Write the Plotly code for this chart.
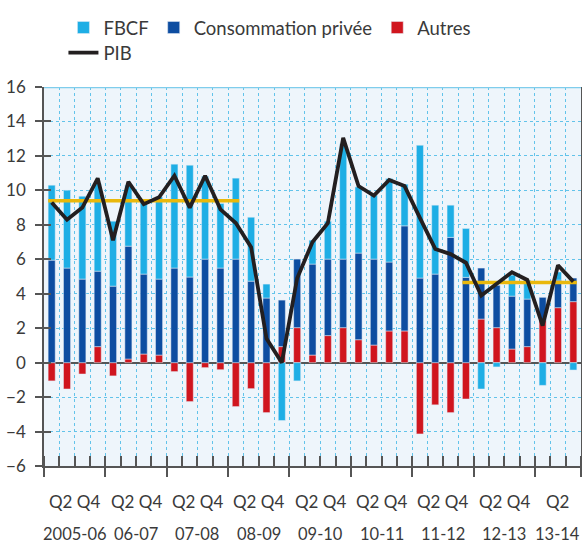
import plotly.graph_objects as go

# ---- data (quarters 2005-06 Q1 .. 2013-14 Q3) ----
years = ["2005-06", "06-07", "07-08", "08-09", "09-10", "10-11", "11-12", "12-13", "13-14"]
quarters_per_year = [4, 4, 4, 4, 4, 4, 4, 4, 3]
quarter_labels = ["Q2 Q4", "Q2 Q4", "Q2 Q4", "Q2 Q4", "Q2 Q4", "Q2 Q4", "Q2 Q4", "Q2 Q4", "Q2"]

fbcf = [4.35, 4.52, 4.81, 5.09, 3.77, 3.54, 4.16, 4.77,
        6.03, 6.49, 4.81, 3.75, 4.70, 3.71, 0.81, -3.36,
        -1.06, 1.39, 2.20, 6.69, 3.84, 3.71, 4.85, 2.42,
        7.71, 4.00, 1.87, 2.84, -1.53, -0.25, 1.22, 1.10,
        -1.32, 0.47, -0.43]
consommation = [5.95, 5.49, 4.85, 4.38, 4.44, 6.55, 4.64, 4.41,
                5.49, 4.97, 6.01, 5.49, 6.01, 4.73, 3.75, 2.70,
                3.98, 5.28, 4.44, 3.98, 5.03, 4.99, 4.00, 6.10,
                4.91, 5.14, 7.27, 4.95, 2.96, 2.46, 3.07, 2.76,
                1.34, 1.60, 1.37]
autres = [-1.06, -1.53, -0.66, 0.93, -0.77, 0.21, 0.50, 0.44,
          -0.52, -2.26, -0.29, -0.41, -2.55, -1.51, -2.90, 0.93,
          2.03, 0.44, 1.57, 2.03, 1.33, 1.02, 1.84, 1.84,
          -4.14, -2.45, -2.90, -2.11, 2.53, 2.03, 0.79, 0.93,
          2.45, 3.19, 3.54]
pib = [9.3, 8.3, 9.0, 10.7, 7.1, 10.5, 9.2, 9.6,
       10.85, 9.0, 10.85, 8.9, 8.1, 6.7, 1.4, 0.0,
       4.9, 7.0, 8.1, 13.05, 10.25, 9.7, 10.6, 10.25,
       8.4, 6.6, 6.3, 5.8, 3.9, 4.6, 5.25, 4.8,
       2.15, 5.65, 4.7]

# average growth over periods (first quarter index, last quarter index, value)
avg_first_q = [0, 27]
avg_last_q = [12, 34]
avg_value = [9.4, 4.65]

# ---- styling ----
C_FBCF = "#1EAEE5"
C_CONS = "#0D4DA1"
C_AUT = "#D0151E"
C_PIB = "#231F20"
C_AVG = "#E9B80C"
GRID = "#62C3EA"
AXIS = "#555555"
TXT = "#3a3a3a"
FONT = "Lato"
BAR_W = 0.46

n = len(pib)
x = list(range(n))

# year boundaries / centers computed from quarters per year
bounds = [-0.5]
for q in quarters_per_year:
    bounds.append(bounds[-1] + q)
centers = [(bounds[i] + bounds[i + 1]) / 2 for i in range(len(years))]
quarter_bounds = [i - 0.5 for i in range(n + 1)]

fig = go.Figure()
fig.add_trace(go.Bar(x=x, y=autres, name="Autres", marker_color=C_AUT,
                     width=BAR_W, legendrank=3, legend="legend"))
fig.add_trace(go.Bar(x=x, y=consommation, name="Consommation privée", marker_color=C_CONS,
                     width=BAR_W, legendrank=2, legend="legend"))
fig.add_trace(go.Bar(x=x, y=fbcf, name="FBCF", marker_color=C_FBCF,
                     width=BAR_W, legendrank=1, legend="legend"))

for a, b, v in zip(avg_first_q, avg_last_q, avg_value):
    fig.add_trace(go.Scatter(x=[a - BAR_W / 2, b + BAR_W / 2], y=[v, v], mode="lines",
                             line=dict(color=C_AVG, width=3.5), showlegend=False,
                             hoverinfo="skip"))

fig.add_trace(go.Scatter(x=x, y=pib, name="PIB", mode="lines",
                         line=dict(color=C_PIB, width=3.8), legend="legend2"))

# invisible trace to carry inside y ticks
fig.add_trace(go.Scatter(x=[0], y=[0], yaxis="y2", mode="markers",
                         marker=dict(opacity=0), showlegend=False, hoverinfo="skip"))

annotations = []
for c, ql, yl in zip(centers, quarter_labels, years):
    annotations.append(dict(x=c, y=0, xref="x", yref="paper", text=ql, showarrow=False,
                            yanchor="middle", yshift=-35,
                            font=dict(family=FONT, size=17, color=TXT)))
    annotations.append(dict(x=c, y=0, xref="x", yref="paper", text=yl, showarrow=False,
                            yanchor="bottom", yshift=-80,
                            font=dict(family=FONT, size=16.5, color=TXT)))

fig.update_layout(
    width=582, height=545,
    margin=dict(l=44, r=1, t=87, b=79, autoexpand=False),
    barmode="relative",
    paper_bgcolor="white",
    plot_bgcolor="#EEF5FB",
    font=dict(family=FONT, size=16, color=TXT),
    xaxis=dict(range=[-0.5, n - 0.5], tickvals=bounds, showticklabels=False,
               ticks="outside", ticklen=9, tickwidth=1.5, tickcolor=AXIS,
               showline=True, linecolor=AXIS, linewidth=1.5,
               showgrid=True, gridcolor=GRID, griddash="dot", gridwidth=1,
               zeroline=False,
               minor=dict(tickvals=quarter_bounds, ticks="inside", ticklen=10,
                          tickwidth=1.5, tickcolor=AXIS, showgrid=True,
                          gridcolor=GRID, griddash="dot", gridwidth=1)),
    yaxis=dict(range=[-6, 16], dtick=2, tick0=0, ticks="outside", ticklen=7,
               tickwidth=1.5, tickcolor=AXIS, showline=True, linecolor=AXIS,
               linewidth=1.5, mirror=True,
               showgrid=True, gridcolor=GRID, griddash="dot", gridwidth=1,
               zeroline=True, zerolinecolor=AXIS, zerolinewidth=1.5,
               ticklabelstandoff=6,
               tickfont=dict(family=FONT, size=17, color=TXT)),
    yaxis2=dict(range=[-6, 16], dtick=2, tick0=0, overlaying="y", side="left",
                anchor="x", ticks="inside", ticklen=7, tickwidth=1.5, tickcolor=AXIS,
                showticklabels=False, showgrid=False, zeroline=False, showline=False),
    legend=dict(orientation="h", x=0.109, y=1 - 9 / 545, xanchor="left", yanchor="top",
                xref="container", yref="container",
                font=dict(family=FONT, size=18.5, color=TXT),
                traceorder="normal", bgcolor="rgba(0,0,0,0)"),
    legend2=dict(orientation="h", x=0.109, y=1 - 34 / 545, xanchor="left", yanchor="top",
                 xref="container", yref="container",
                 font=dict(family=FONT, size=18.5, color=TXT),
                 bgcolor="rgba(0,0,0,0)"),
    annotations=annotations,
    shapes=[dict(type="line", xref="paper", yref="y", x0=0, x1=1, y0=16, y1=16,
                 line=dict(color="#7FCDEC", width=2.5))],
    showlegend=True,
)

fig.write_html("out.html", config={"displayModeBar": False},
               post_script="document.body.style.margin='0';document.body.style.overflow='hidden';")
